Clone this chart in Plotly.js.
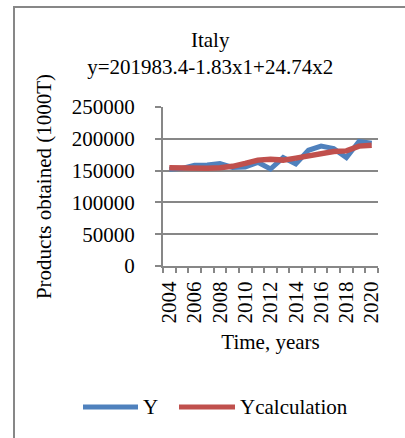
<!DOCTYPE html>
<html>
<head>
<meta charset="utf-8">
<script src="https://cdn.plot.ly/plotly-3.0.1.min.js"></script>
<style>
html,body{margin:0;padding:0;background:#fff;overflow:hidden;}
#frame{position:absolute;left:13px;top:6px;width:430px;height:460px;border:2px solid #878787;box-sizing:border-box;}
#chart{position:absolute;left:0;top:0;width:405px;height:438px;}
</style>
</head>
<body>
<div id="frame"></div>
<div id="chart"></div>
<script>
const years = [2004,2005,2006,2007,2008,2009,2010,2011,2012,2013,2014,2015,2016,2017,2018,2019,2020];
const yActual = [152000,153500,158500,158700,161000,155000,155500,163000,152500,170500,160500,182000,188500,184500,170500,196000,193000];
const yCalc = [154600,154000,152600,153600,154600,156700,161300,166500,168000,166500,169600,173200,175700,180000,181000,188500,190000];
const yTicks = [0,50000,100000,150000,200000,250000];
const titleLines = ["Italy","y=201983.4-1.83x1+24.74x2"];
const seriesNames = ["Y","Ycalculation"];
const seriesColors = ["#4F81BD","#C0504D"];

const serif = "'Liberation Serif', 'Times New Roman', serif";
const grey = "#878787";
const FS = 21;

const traces = [
  {x: years, y: yActual, name: seriesNames[0], type: "scatter", mode: "lines",
   line: {color: seriesColors[0], width: 5}},
  {x: years, y: yCalc, name: seriesNames[1], type: "scatter", mode: "lines",
   line: {color: seriesColors[1], width: 5.5}}
];

// plot area in pixels: x 163..378, y 107..266
const PL = 163, PW = 215, PB = 266, PH = 159;
const px = v => (v - PL) / PW;
const py = v => (PB - v) / PH;

// custom legend (line samples + labels)
const legendY = 407;
const legendItems = [
  {x0: 83, x1: 138, tx: 141},
  {x0: 179, x1: 235, tx: 238}
];
const shapes = legendItems.map((it, i) => ({
  type: "line", xref: "paper", yref: "paper",
  x0: px(it.x0), x1: px(it.x1), y0: py(legendY), y1: py(legendY),
  line: {color: seriesColors[i], width: 5}
}));
const annotations = legendItems.map((it, i) => ({
  xref: "paper", yref: "paper", x: px(it.tx), y: py(legendY),
  xanchor: "left", yanchor: "middle", showarrow: false,
  text: seriesNames[i], font: {family: serif, size: FS, color: "#000"}
}));

const layout = {
  width: 405, height: 438,
  margin: {l: 163, r: 27, t: 107, b: 172},
  paper_bgcolor: "rgba(0,0,0,0)",
  plot_bgcolor: "rgba(0,0,0,0)",
  font: {family: serif, size: FS, color: "#000"},
  title: {
    text: titleLines.join("<br>"),
    font: {family: serif, size: FS, color: "#000"},
    x: 0.519, xref: "container", xanchor: "center",
    y: 1 - 47/438, yref: "container", yanchor: "top"
  },
  showlegend: false,
  shapes: shapes,
  annotations: annotations,
  xaxis: {
    type: "linear",
    range: [2003.5, 2020.5],
    tickmode: "linear", tick0: 2004, dtick: 2,
    tickangle: -90,
    ticks: "outside", ticklen: 5, tickcolor: "rgba(0,0,0,0)", tickwidth: 2,
    tickformat: "d",
    minor: {tick0: 2003.5, dtick: 1, ticks: "outside", ticklen: 5, tickcolor: grey, tickwidth: 2, showgrid: false},
    showline: true, linecolor: grey, linewidth: 2,
    showgrid: false, zeroline: false,
    tickfont: {family: serif, size: FS, color: "#000"},
    title: {text: "Time, years", font: {family: serif, size: FS, color: "#000"}, standoff: 12},
    fixedrange: true
  },
  yaxis: {
    range: [0, 250000],
    tickvals: yTicks,
    ticktext: yTicks.map(String),
    ticks: "outside", ticklen: 6, tickcolor: grey, tickwidth: 2,
    ticklabelstandoff: 16,
    showline: true, linecolor: grey, linewidth: 2,
    showgrid: true, gridcolor: grey, gridwidth: 2,
    zeroline: false,
    tickfont: {family: serif, size: FS, color: "#000"},
    title: {text: "Products obtained (1000T)", font: {family: serif, size: FS, color: "#000"}, standoff: 14},
    fixedrange: true
  }
};

Plotly.newPlot("chart", traces, layout, {displayModeBar: false, staticPlot: true});
</script>
</body>
</html>
